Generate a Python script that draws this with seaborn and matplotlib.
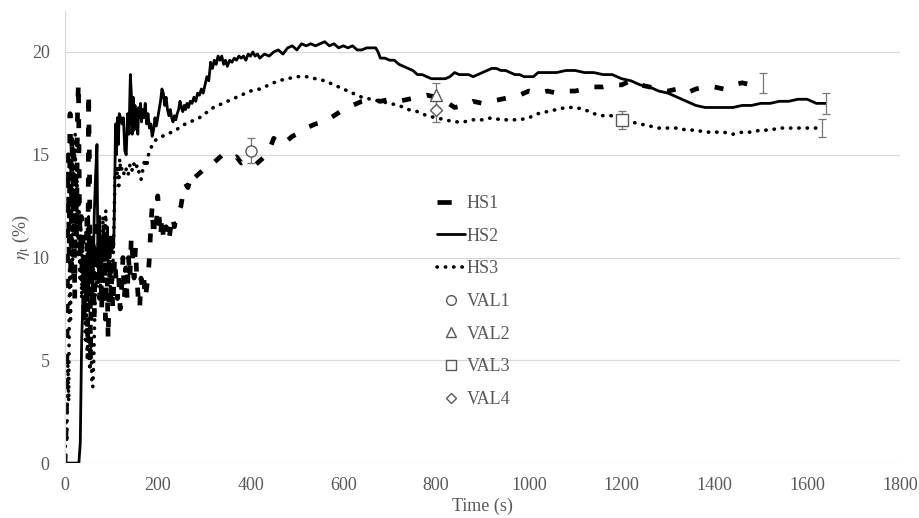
import numpy as np
import pandas as pd
import matplotlib
matplotlib.use("Agg")
import matplotlib.pyplot as plt
import seaborn as sns
from matplotlib.lines import Line2D

# ---------------- data ----------------
hs1_t = [0, 3, 5, 7, 9, 11, 13, 15, 17, 19, 21, 23, 25, 27, 29, 31, 33, 35, 37, 39, 41, 43, 45, 47, 49, 51, 53, 55,
         57, 59, 61, 63, 65, 67, 69, 71, 73, 75, 77, 79, 81, 83, 85, 87, 89, 91, 93, 95, 97, 99, 101, 103, 105, 107,
         110, 113, 116, 119, 122, 125, 128, 131, 134, 137, 140, 143, 146, 149, 152, 155, 158, 161, 164, 167, 170, 173,
         176, 179, 182, 185, 188, 191, 194, 197, 200, 203, 206, 209, 212, 215, 218, 221, 224, 228, 232, 236, 240, 245,
         250, 255, 260, 265, 270, 275, 280, 290, 300, 310, 320, 330, 340, 350, 360, 370, 380, 390, 400, 410, 420, 430,
         440, 450, 460, 470, 480, 490, 500, 520, 540, 560, 580, 600, 620, 640, 660, 680, 700, 720, 740, 760, 780, 800,
         820, 840, 860, 880, 900, 920, 940, 960, 980, 1000, 1020, 1040, 1060, 1080, 1100, 1120, 1140, 1160, 1180, 1200,
         1220, 1240, 1260, 1280, 1300, 1320, 1340, 1360, 1380, 1400, 1420, 1440, 1460, 1480, 1505]
hs1_y = [0, 2, 8, 15, 10, 17, 9, 16, 12, 15, 8, 14, 11, 17, 18.5, 13, 10, 12, 9, 11, 7, 10, 8, 12, 6, 18, 14, 5,
         10, 8, 11, 7, 10, 9, 12, 9, 11, 8, 10, 7.5, 9, 8, 10, 7, 11, 9, 6, 8, 10, 8, 9, 7.5, 8.5, 10,
         9, 8, 9, 7.5, 8.5, 10, 8, 9.5, 8, 10, 9, 11, 10, 9, 10.5, 9, 8, 7.5, 9, 8.5, 9, 8,
         8.5, 9, 10, 11.5, 12.5, 11, 12, 11.5, 13, 12, 11, 12, 11, 10.8, 11.5, 11, 10.8, 11.5, 12, 11.5, 12, 12.2,
         12.5, 13.2, 13.6, 13.4, 13.8, 13.6, 13.9, 14.1, 14.3, 14.5, 14.6, 14.8, 15.0, 14.9, 14.8, 14.9, 14.6, 14.7, 14.6, 14.5, 14.7, 14.9,
         15.2, 15.8, 15.6, 15.8, 15.7, 15.9, 16.0, 16.3, 16.5, 16.6, 16.9, 17.2, 17.4, 17.6, 17.7, 17.6, 17.7, 17.6, 17.7, 17.8, 17.9, 17.8,
         17.6, 17.3, 17.4, 17.6, 17.5, 17.6, 17.7, 17.8, 17.9, 18.1, 18.0, 18.1, 18.0, 18.1, 18.1, 18.2, 18.3, 18.3, 18.4, 18.4,
         18.6, 18.4, 18.3, 18.2, 18.1, 18.2, 18.0, 18.2, 18.3, 18.3, 18.2, 18.4, 18.5, 18.4, 18.5]

hs2_t = [0, 30, 33, 36, 39, 42, 45, 48, 51, 54, 57, 60, 63, 66, 69, 71, 73, 75, 77, 79, 81, 83, 85, 87, 89, 91, 93, 95,
         97, 99, 101, 103, 105, 107, 109, 111, 113, 115, 117, 120, 123, 126, 129, 132, 135, 138, 141, 143, 145, 147,
         149, 151, 153, 155, 157, 159, 161, 163, 165, 167, 170, 173, 176, 179, 182, 185, 188, 191, 194, 197, 200, 203,
         206, 209, 212, 215, 218, 221, 224, 227, 230, 233, 236, 239, 242, 245, 248, 251, 254, 257, 260, 263, 266, 270,
         274, 278, 282, 286, 290, 294, 298, 302, 306, 310, 314, 318, 322, 326, 330, 334, 338, 342, 346, 350, 355, 360,
         365, 370, 375, 380, 385, 390, 395, 400, 405, 410, 415, 420, 430, 440, 450, 460, 470, 480, 490, 500, 510, 520,
         530, 540, 550, 560, 570, 580, 590, 600, 610, 620, 630, 640, 650, 660, 670, 675, 680, 690, 700, 710, 720, 730,
         740, 750, 760, 770, 780, 790, 800, 810, 820, 830, 840, 850, 860, 870, 880, 890, 900, 910, 920, 930, 940, 950,
         960, 970, 980, 990, 1000, 1010, 1020, 1040, 1060, 1080, 1100, 1120, 1140, 1160, 1180, 1200, 1220, 1240, 1260,
         1280, 1300, 1320, 1340, 1360, 1380, 1400, 1420, 1440, 1460, 1480, 1500, 1520, 1540, 1560, 1580, 1600, 1620, 1640]
hs2_y = [0, 0, 1, 6, 8, 7, 10, 8, 12, 9, 11, 8, 12, 14, 15.5, 10, 9, 12, 9, 11, 10, 11.5, 10, 11, 10, 11.5, 10.2, 11,
         10, 11, 10.3, 11, 10.5, 13, 16.5, 15, 16.8, 15.5, 17, 16.8, 16.5, 16.8, 15.2, 15, 17, 16, 18.9, 18, 16, 17.8,
         16.2, 17.4, 16.5, 17.2, 16, 17.3, 16.8, 17.5, 16.6, 17.2, 16.8, 17.5, 16.5, 17, 16.3, 16.5, 15.9, 16.2, 16.8, 16.4, 16.8, 17.2,
         17.6, 18.2, 18, 17.4, 17.8, 17.2, 16.9, 17.2, 16.8, 16.6, 16.9, 16.7, 17, 17.2, 17.6, 17.3, 17.1, 17.4, 17.2, 17.5, 17.3, 17.6,
         17.5, 17.8, 17.6, 18, 17.9, 18.2, 18, 18.4, 18.8, 18.6, 19.5, 19.2, 19.6, 19.4, 19.8, 19.6, 19.8, 19.4, 19.6, 19.3, 19.6, 19.5,
         19.7, 19.6, 19.8, 19.7, 19.8, 19.6, 19.9, 19.8, 20.0, 19.8, 19.9, 19.7, 19.9, 19.8, 20.0, 20.1, 19.9, 20.2, 20.3, 20.1, 20.4, 20.3,
         20.4, 20.3, 20.4, 20.5, 20.3, 20.4, 20.2, 20.3, 20.2, 20.3, 20.1, 20.1, 20.2, 20.2, 20.2, 20.0, 19.7, 19.7, 19.6, 19.6, 19.4, 19.3,
         19.2, 19.1, 18.9, 18.9, 18.8, 18.7, 18.7, 18.7, 18.7, 18.8, 19.0, 18.9, 18.9, 18.9, 18.8, 18.9, 19.0, 19.1, 19.2, 19.2, 19.1, 19.1,
         19.0, 18.9, 18.9, 18.8, 18.8, 18.8, 19.0, 19.0, 19.0, 19.1, 19.1, 19.0, 19.0, 18.9, 18.9, 18.7, 18.6, 18.4, 18.3,
         18.1, 18.0, 17.8, 17.6, 17.4, 17.3, 17.3, 17.3, 17.3, 17.4, 17.4, 17.5, 17.5, 17.6, 17.6, 17.7, 17.7, 17.5, 17.5]

hs3_t = [0, 2, 4, 6, 8, 10, 12, 14, 16, 18, 20, 22, 24, 26, 28, 30, 32, 34, 36, 38, 40, 42, 44, 46, 48, 50, 52, 54,
         56, 58, 60, 62, 64, 66, 68, 70, 72, 74, 76, 78, 80, 82, 84, 86, 88, 90, 92, 94, 96, 98, 100, 102, 104, 106,
         108, 110, 112, 114, 116, 118, 120, 124, 128, 132, 136, 140, 144, 148, 152, 156, 160, 164, 168, 172, 176, 180,
         185, 190, 200, 210, 220, 230, 240, 250, 260, 270, 280, 290, 300, 310, 320, 330, 340, 350, 360, 370, 380, 390,
         400, 420, 440, 460, 480, 500, 520, 540, 560, 580, 600, 620, 640, 660, 680, 700, 720, 740, 760, 780, 800, 820,
         840, 860, 880, 900, 920, 940, 960, 980, 1000, 1020, 1040, 1060, 1080, 1100, 1120, 1140, 1160, 1180, 1200, 1220,
         1240, 1260, 1280, 1300, 1320, 1340, 1360, 1380, 1400, 1420, 1440, 1460, 1480, 1500, 1520, 1540, 1560, 1580,
         1600, 1632]
hs3_y = [0, 2, 1, 5, 3, 10, 7, 13, 9, 15, 12, 16, 11, 14, 10, 13, 9, 12, 8, 11, 7, 9, 6, 8, 5, 7, 5, 4.5,
         6, 4, 3.7, 5, 7, 9, 8.5, 10, 8.8, 9.5, 8, 10.5, 9, 12, 9.5, 11, 12.3, 10, 11, 9.5, 10.5, 8.5, 9.7, 9, 10, 12,
         14, 14.5, 14, 14.4, 13.5, 14.8, 14.2, 14.4, 14, 14.3, 14, 14.5, 14.2, 14.6, 14.3, 14.5, 14.1, 13.8, 14.3, 14.8, 14.4, 15,
         15.3, 15.6, 15.8, 15.9, 16.0, 16.1, 16.2, 16.4, 16.5, 16.6, 16.7, 16.8, 17.0, 17.1, 17.3, 17.4, 17.5, 17.6, 17.7, 17.8, 17.9, 18.0,
         18.1, 18.2, 18.4, 18.6, 18.7, 18.8, 18.8, 18.7, 18.6, 18.4, 18.2, 18.0, 17.8, 17.7, 17.6, 17.5, 17.4, 17.2, 17.1, 16.9, 16.8, 16.7,
         16.6, 16.6, 16.7, 16.7, 16.8, 16.7, 16.7, 16.7, 16.8, 17.0, 17.1, 17.2, 17.3, 17.3, 17.2, 17.0, 16.9, 16.9, 16.8, 16.6,
         16.5, 16.4, 16.3, 16.3, 16.3, 16.2, 16.2, 16.1, 16.1, 16.1, 16.0, 16.1, 16.1, 16.2, 16.2, 16.3, 16.3, 16.3,
         16.3, 16.3]

# end-point error bars of the HS series
hs_err_t = [1505, 1640, 1632]
hs_err_y = [18.5, 17.5, 16.3]
hs_err_e = [0.5, 0.5, 0.45]

# validation points
val_labels = ["VAL1", "VAL2", "VAL3", "VAL4"]
val_t = [400, 800, 1200, 800]
val_y = [15.2, 17.9, 16.7, 17.2]
val_e = [0.6, 0.6, 0.45, 0.6]
val_markers = ["o", "^", "s", "D"]

x_ticks = [0, 200, 400, 600, 800, 1000, 1200, 1400, 1600, 1800]
y_ticks = [0, 5, 10, 15, 20]

# ---------------- style ----------------
sns.set_theme(style="white")
plt.rcParams["font.family"] = ["Liberation Serif", "DejaVu Serif"]
plt.rcParams["mathtext.fontset"] = "stix"
GRAY = "#595959"
FS = 13

fig = plt.figure(figsize=(9.19, 5.18), dpi=100)
ax = fig.add_axes([0.0707, 0.106, 0.9085, 0.873])

df1 = pd.DataFrame({"t": hs1_t, "y": hs1_y})
df2 = pd.DataFrame({"t": hs2_t, "y": hs2_y})
df3 = pd.DataFrame({"t": hs3_t, "y": hs3_y})

HS1_LS = (0, (1.9, 3.4))
HS3_LS = (0, (0.1, 2.2))

sns.lineplot(data=df3, x="t", y="y", ax=ax, color="black", lw=2.6, sort=False, estimator=None,
             linestyle=HS3_LS, dash_capstyle="round", solid_capstyle="round")
sns.lineplot(data=df1, x="t", y="y", ax=ax, color="black", lw=3.4, sort=False, estimator=None,
             linestyle=HS1_LS)
sns.lineplot(data=df2, x="t", y="y", ax=ax, color="black", lw=2.0, sort=False, estimator=None)

ax.errorbar(hs_err_t, hs_err_y, yerr=hs_err_e, fmt="none", ecolor="#777777", elinewidth=0.9,
            capsize=3, capthick=0.9)
ax.errorbar(val_t, val_y, yerr=val_e, fmt="none", ecolor="#777777", elinewidth=0.9,
            capsize=3, capthick=0.9)
for t, y, m in zip(val_t, val_y, val_markers):
    ms = 8 if m != "D" else 6
    ax.plot([t], [y], marker=m, ms=ms, mfc="white", mec=GRAY, mew=1.0, ls="none", zorder=5)

ax.set_xlim(0, 1800)
ax.set_ylim(0, 22)
ax.set_xticks(x_ticks)
ax.set_yticks(y_ticks)
ax.tick_params(axis="both", length=0, labelsize=FS, labelcolor=GRAY)
ax.tick_params(axis="x", pad=10)
ax.tick_params(axis="y", pad=11)
ax.yaxis.grid(True, color="#d9d9d9", lw=0.9)
ax.xaxis.grid(False)
for s in ["top", "right", "bottom"]:
    ax.spines[s].set_visible(False)
ax.spines["left"].set_color("#d9d9d9")
ax.spines["left"].set_linewidth(0.9)
ax.set_xlabel("Time (s)", fontsize=FS, color=GRAY, labelpad=3)
ax.set_ylabel(r"$\eta_\mathrm{t}$ (%)", fontsize=FS, color=GRAY, labelpad=0)

handles = [
    Line2D([], [], color="black", lw=3.4, linestyle=(0, (3.0, 3.4))),
    Line2D([], [], color="black", lw=2.0),
    Line2D([], [], color="black", lw=2.6, linestyle=HS3_LS, dash_capstyle="round"),
]
for m in val_markers:
    ms = 7 if m != "D" else 5
    handles.append(Line2D([], [], marker=m, ms=ms, mfc="white", mec=GRAY, mew=1.0, ls="none"))
labels = ["HS1", "HS2", "HS3"] + val_labels
leg = ax.legend(handles, labels, loc="upper left", bbox_to_anchor=(0.4455, 0.593), frameon=False,
                fontsize=FS, labelspacing=0.87, handlelength=1.55, handletextpad=0.1,
                borderpad=0, borderaxespad=0)
for txt in leg.get_texts():
    txt.set_color(GRAY)

fig.savefig("out.png", dpi=100, facecolor="white")
